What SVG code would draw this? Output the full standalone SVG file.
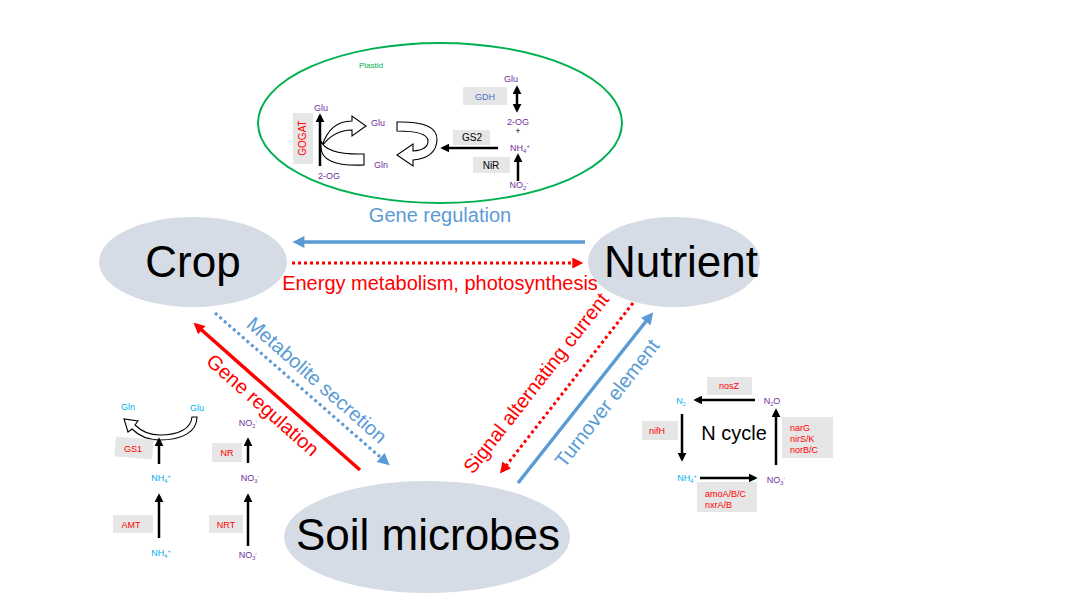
<svg xmlns="http://www.w3.org/2000/svg" width="1080" height="608" viewBox="0 0 1080 608">
<defs>
<style>
text{font-family:"Liberation Sans",Arial,sans-serif}
.node{fill:#D6DCE5}
.big{font-size:44px;fill:#000;text-anchor:middle}
.sm{font-size:9px;text-anchor:middle}
.pu{fill:#7030A0}
.cy{fill:#00B0F0}
.rd{fill:#FF0000}
.box{fill:#E7E6E6}
.blk{stroke:#000;stroke-width:2.5;fill:none}
.hollow{fill:#fff;stroke:#000;stroke-width:1.1}
.lbl{font-size:20px;text-anchor:middle}
</style>
<marker id="aBlue" viewBox="0 0 10 10" refX="7" refY="5" markerUnits="userSpaceOnUse" markerWidth="13" markerHeight="12" orient="auto"><path d="M0,0 L10,5 L0,10 z" fill="#5B9BD5"/></marker>
<marker id="aRed" viewBox="0 0 10 10" refX="7" refY="5" markerUnits="userSpaceOnUse" markerWidth="12" markerHeight="11" orient="auto"><path d="M0,0 L10,5 L0,10 z" fill="#FF0000"/></marker>
<marker id="aBlk" viewBox="0 0 10 10" refX="7" refY="5" markerUnits="userSpaceOnUse" markerWidth="9" markerHeight="9" orient="auto-start-reverse"><path d="M0,0 L10,5 L0,10 z" fill="#000"/></marker>
</defs>
<rect width="1080" height="608" fill="#fff"/>

<g id="crop">
<ellipse class="node" cx="193" cy="262" rx="94" ry="45"/>
<text class="big" x="193" y="277">Crop</text>
</g>
<g id="nutrient">
<ellipse class="node" cx="674" cy="262" rx="86" ry="45"/>
<text class="big" x="681" y="277">Nutrient</text>
</g>
<g id="soil-microbes">
<ellipse class="node" cx="427" cy="537" rx="143" ry="56"/>
<text class="big" x="428" y="550">Soil microbes</text>
</g>

<g id="plastid">
<ellipse cx="440" cy="123" rx="182" ry="80" fill="none" stroke="#00B050" stroke-width="2"/>
<text x="371" y="68" font-size="8" fill="#00B050" text-anchor="middle">Plastid</text>
<rect class="box" x="293" y="113" width="20" height="51"/>
<text transform="translate(306,138) rotate(-90)" font-size="10" class="rd" text-anchor="middle">GOGAT</text>
<path class="hollow" d="M322,146 Q330,121 352,121 L352,116 L366,126 L352,136 L352,130 Q334,130 322,146 Z"/>
<line class="blk" x1="320" y1="166" x2="320" y2="116" marker-end="url(#aBlk)"/>
<path class="hollow" d="M321,141 Q326,155 364,154 L364,165 Q320,167 321,146 Z"/>
<text class="sm pu" x="321" y="111">Glu</text>
<text class="sm pu" x="329" y="179">2-OG</text>
<text class="sm pu" x="378" y="126">Glu</text>
<text class="sm pu" x="381" y="168">Gln</text>
<path class="hollow" d="M397,122 Q438,121 437,140 Q436,158 413,160 L413,166 L397,155 L413,144 L413,151 Q428,150 428,141 Q428,131 397,131 Z"/>
<rect class="box" x="453" y="130" width="37" height="15"/>
<text x="472" y="141" font-size="10" text-anchor="middle">GS2</text>
<line class="blk" x1="498" y1="148" x2="443" y2="148" marker-end="url(#aBlk)"/>
<rect class="box" x="473" y="157" width="37" height="16"/>
<text x="491" y="169" font-size="10" text-anchor="middle">NiR</text>
<line class="blk" x1="518" y1="181" x2="518" y2="156" marker-end="url(#aBlk)"/>
<rect class="box" x="463" y="87" width="44" height="18"/>
<text x="485" y="100" font-size="9" fill="#4472C4" text-anchor="middle">GDH</text>
<line class="blk" x1="517" y1="88" x2="517" y2="110" marker-start="url(#aBlk)" marker-end="url(#aBlk)"/>
<text class="sm pu" x="511" y="82">Glu</text>
<text class="sm pu" x="518" y="125">2-OG</text>
<text class="sm" x="518" y="134" font-size="8" fill="#000">+</text>
<text class="sm pu" x="520" y="151">NH<tspan dy="2" font-size="6">4</tspan><tspan dy="-5" font-size="6">+</tspan></text>
<text class="sm pu" x="519" y="188">NO<tspan dy="2" font-size="6">2</tspan><tspan dy="-5" font-size="6">-</tspan></text>
</g>

<g id="root-uptake">
<text class="sm cy" x="128" y="410" font-size="8">Gln</text>
<text class="sm cy" x="197" y="411" font-size="8">Glu</text>
<path class="hollow" d="M197,417 C197,432 182,440 160,440 C147,440 138,435 132,429 L128,432 L124,419 L138,421 L135,425 C141,431 149,435 160,435 C178,435 191,429 192,417 Z"/>
<rect class="box" x="115" y="438" width="38" height="20" transform="rotate(5,134,448)"/>
<text class="sm rd" x="133" y="452">GS1</text>
<line class="blk" x1="159" y1="464" x2="159" y2="440" marker-end="url(#aBlk)"/>
<text class="sm cy" x="161" y="481" font-size="8">NH<tspan dy="2" font-size="5.5">4</tspan><tspan dy="-5" font-size="5.5">+</tspan></text>
<rect class="box" x="113" y="515" width="40" height="18"/>
<text class="sm rd" x="131" y="528">AMT</text>
<line class="blk" x1="159" y1="538" x2="159" y2="496" marker-end="url(#aBlk)"/>
<text class="sm cy" x="161" y="556" font-size="8">NH<tspan dy="2" font-size="5.5">4</tspan><tspan dy="-5" font-size="5.5">+</tspan></text>
<rect class="box" x="212" y="443" width="30" height="19"/>
<text class="sm rd" x="227" y="456">NR</text>
<line class="blk" x1="248" y1="463" x2="248" y2="440" marker-end="url(#aBlk)"/>
<text class="sm pu" x="248" y="426" font-size="8">NO<tspan dy="2" font-size="5.5">2</tspan><tspan dy="-5" font-size="5.5">-</tspan></text>
<text class="sm pu" x="250" y="481" font-size="8">NO<tspan dy="2" font-size="5.5">3</tspan><tspan dy="-5" font-size="5.5">-</tspan></text>
<rect class="box" x="209" y="515" width="34" height="18"/>
<text class="sm rd" x="226" y="528">NRT</text>
<line class="blk" x1="248" y1="546" x2="248" y2="496" marker-end="url(#aBlk)"/>
<text class="sm pu" x="248" y="558" font-size="8">NO<tspan dy="2" font-size="5.5">3</tspan><tspan dy="-5" font-size="5.5">-</tspan></text>
</g>

<g id="n-cycle">
<text x="734" y="440" font-size="20" text-anchor="middle">N cycle</text>
<rect class="box" x="707" y="377" width="45" height="18"/>
<text class="sm rd" x="729" y="389">nosZ</text>
<line class="blk" x1="755" y1="400" x2="696" y2="400" marker-end="url(#aBlk)"/>
<text class="sm cy" x="681" y="404" font-size="8">N<tspan dy="2" font-size="5.5">2</tspan></text>
<text class="sm pu" x="772" y="404" font-size="8">N<tspan dy="2" font-size="5.5">2</tspan><tspan dy="-2">O</tspan></text>
<rect class="box" x="642" y="421" width="36" height="19"/>
<text class="sm rd" x="657" y="434">nifH</text>
<line class="blk" x1="682" y1="414" x2="682" y2="459" marker-end="url(#aBlk)"/>
<text class="sm cy" x="687" y="481" font-size="8">NH<tspan dy="2" font-size="5.5">4</tspan><tspan dy="-5" font-size="5.5">+</tspan></text>
<line class="blk" x1="700" y1="478" x2="755" y2="478" marker-end="url(#aBlk)"/>
<text class="sm pu" x="776" y="483" font-size="8">NO<tspan dy="2" font-size="5.5">3</tspan><tspan dy="-5" font-size="5.5">-</tspan></text>
<rect class="box" x="697" y="482" width="60" height="30"/>
<text x="705" y="497" font-size="9" class="rd">amoA/B/C</text>
<text x="705" y="508" font-size="9" class="rd">nxrA/B</text>
<line class="blk" x1="776" y1="465" x2="776" y2="411" marker-end="url(#aBlk)"/>
<rect class="box" x="782" y="417" width="51" height="41"/>
<text x="790" y="431" font-size="9" class="rd">narG</text>
<text x="790" y="442" font-size="9" class="rd">nirS/K</text>
<text x="790" y="453" font-size="9" class="rd">norB/C</text>
</g>

<g id="connectors">
<line x1="585" y1="242" x2="296" y2="242" stroke="#5B9BD5" stroke-width="3.5" marker-end="url(#aBlue)"/>
<line x1="292" y1="263" x2="580" y2="263" stroke="#FF0000" stroke-width="3" stroke-dasharray="3 3" marker-end="url(#aRed)"/>
<line x1="215" y1="313" x2="387" y2="463" stroke="#5B9BD5" stroke-width="3" stroke-dasharray="3 3" marker-end="url(#aBlue)"/>
<line x1="360" y1="470" x2="196" y2="325" stroke="#FF0000" stroke-width="3.5" marker-end="url(#aRed)"/>
<line x1="633" y1="303" x2="502" y2="471" stroke="#FF0000" stroke-width="3" stroke-dasharray="3 3" marker-end="url(#aRed)"/>
<line x1="518" y1="483" x2="651" y2="315" stroke="#5B9BD5" stroke-width="3.5" marker-end="url(#aBlue)"/>
<text class="lbl" x="440" y="222" fill="#5B9BD5">Gene regulation</text>
<text class="lbl" x="440" y="290" fill="#FF0000">Energy metabolism, photosynthesis</text>
<text class="lbl" transform="translate(317,380) rotate(41.5)" y="7" fill="#5B9BD5">Metabolite secretion</text>
<text class="lbl" transform="translate(263,405) rotate(41.5)" y="7" fill="#FF0000">Gene regulation</text>
<text class="lbl" transform="translate(536,383) rotate(-52)" y="7" fill="#FF0000">Signal alternating current</text>
<text class="lbl" transform="translate(607,403) rotate(-52)" y="7" fill="#5B9BD5">Turnover element</text>
</g>
</svg>
